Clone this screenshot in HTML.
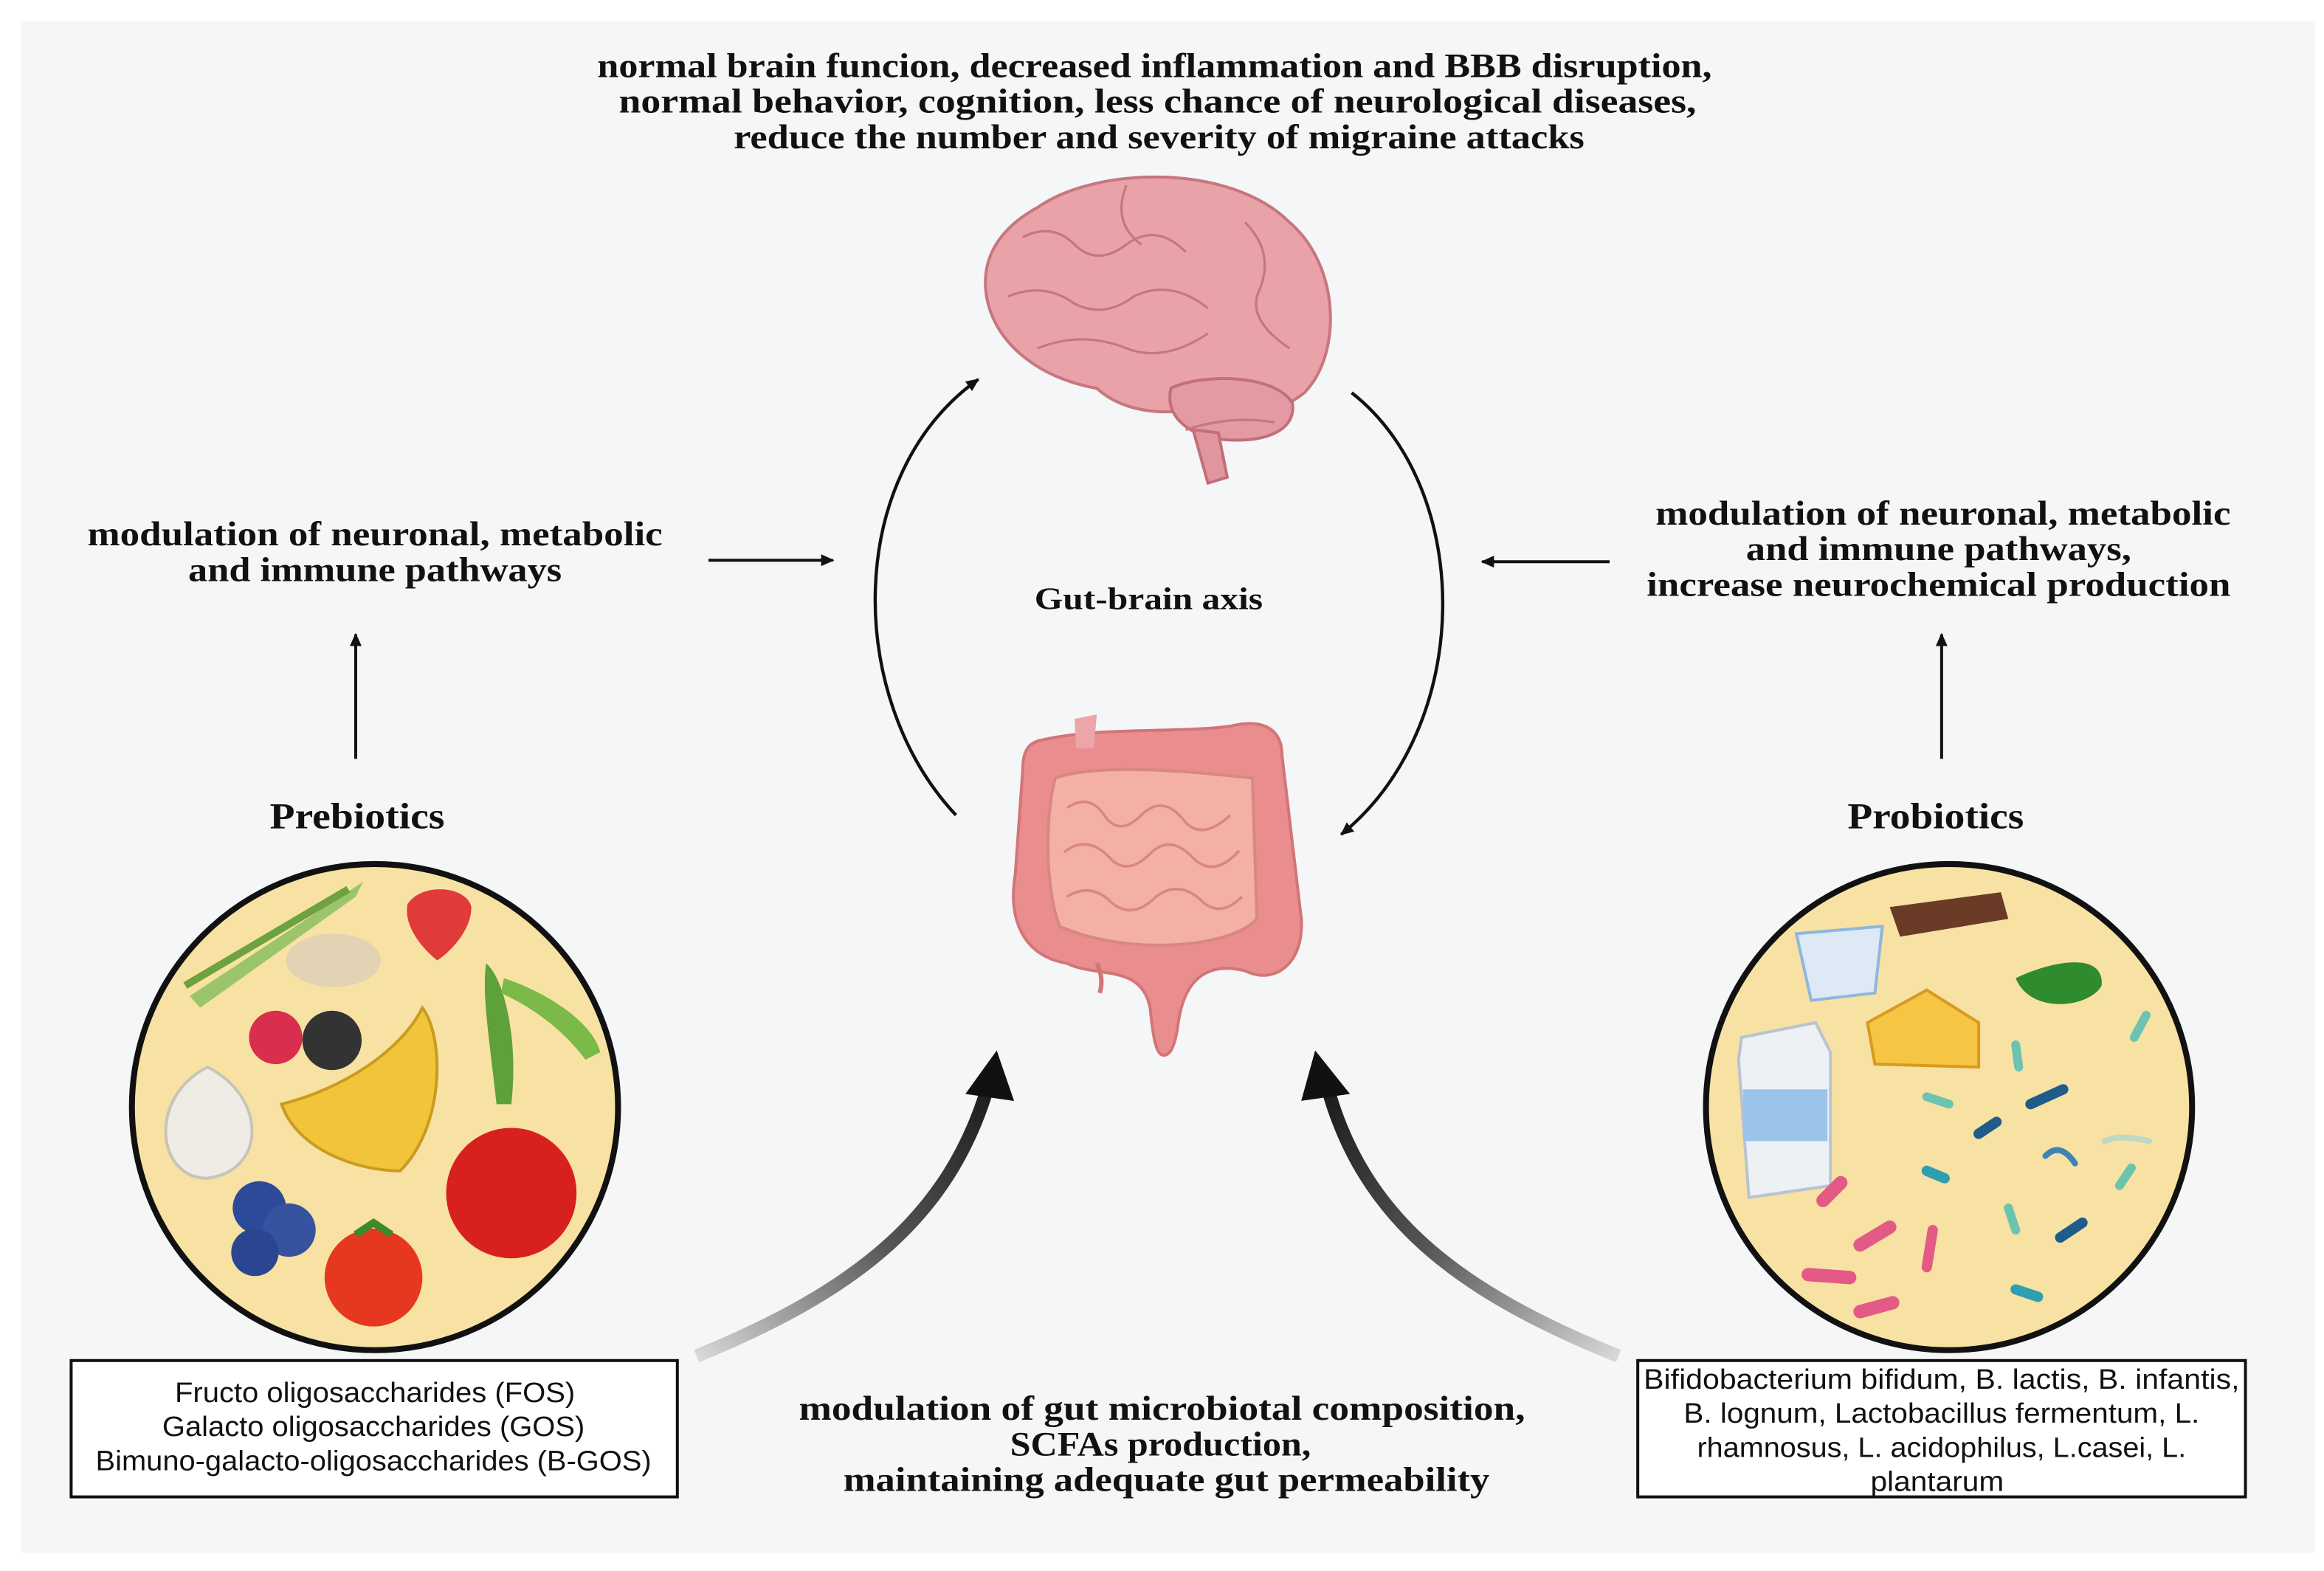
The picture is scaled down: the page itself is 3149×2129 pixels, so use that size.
<!DOCTYPE html>
<html><head><meta charset="utf-8"><style>
html,body{margin:0;padding:0;background:#fff;}
svg{display:block;}
.t{font-family:"Liberation Serif",serif;font-weight:bold;fill:#111;}
.s{font-family:"Liberation Sans",sans-serif;fill:#111;}
</style></head><body>
<svg width="3149" height="2129" viewBox="0 0 1568 1060" preserveAspectRatio="none" xmlns="http://www.w3.org/2000/svg">
<defs>
<marker id="ah" markerWidth="10" markerHeight="10" refX="8" refY="5" orient="auto" markerUnits="userSpaceOnUse"><path d="M0,1 L9,5 L0,9 z" fill="#111"/></marker>
<linearGradient id="gl" x1="470" y1="915" x2="680" y2="712" gradientUnits="userSpaceOnUse"><stop offset="0" stop-color="#d8d8d8"/><stop offset="0.5" stop-color="#555"/><stop offset="1" stop-color="#111"/></linearGradient>
<linearGradient id="gr" x1="1092" y1="915" x2="888" y2="712" gradientUnits="userSpaceOnUse"><stop offset="0" stop-color="#d8d8d8"/><stop offset="0.5" stop-color="#555"/><stop offset="1" stop-color="#111"/></linearGradient>
</defs>
<rect x="0" y="0" width="1568" height="1060" fill="#fff"/>
<rect x="14" y="14" width="1548" height="1034" fill="#f4f6f8"/>

<g class="t" font-size="23" text-anchor="middle" lengthAdjust="spacingAndGlyphs">
<text x="779" y="52" textLength="752" lengthAdjust="spacingAndGlyphs">normal brain funcion, decreased inflammation and BBB disruption,</text>
<text x="781" y="76" textLength="727" lengthAdjust="spacingAndGlyphs">normal behavior, cognition, less chance of neurological diseases,</text>
<text x="782" y="100" textLength="574" lengthAdjust="spacingAndGlyphs">reduce the number and severity of migraine attacks</text>
<text x="253" y="368" textLength="388" lengthAdjust="spacingAndGlyphs">modulation of neuronal, metabolic</text>
<text x="253" y="392" textLength="252" lengthAdjust="spacingAndGlyphs">and immune pathways</text>
<text x="1311" y="354" textLength="388" lengthAdjust="spacingAndGlyphs">modulation of neuronal, metabolic</text>
<text x="1308" y="378" textLength="260" lengthAdjust="spacingAndGlyphs">and immune pathways,</text>
<text x="1308" y="402" textLength="394" lengthAdjust="spacingAndGlyphs">increase neurochemical production</text>
<text x="784" y="958" textLength="490" lengthAdjust="spacingAndGlyphs">modulation of gut microbiotal composition,</text>
<text x="783" y="982" textLength="203" lengthAdjust="spacingAndGlyphs">SCFAs production,</text>
<text x="787" y="1006" textLength="436" lengthAdjust="spacingAndGlyphs">maintaining adequate gut permeability</text>
<text x="241" y="559" font-size="25" textLength="118" lengthAdjust="spacingAndGlyphs">Prebiotics</text>
<text x="1306" y="559" font-size="25" textLength="119" lengthAdjust="spacingAndGlyphs">Probiotics</text>
<text x="775" y="411" font-size="21" textLength="154" lengthAdjust="spacingAndGlyphs">Gut-brain axis</text>
</g>

<!-- brain -->
<g>
<path d="M700,140 C740,112 830,110 870,150 C905,180 905,240 880,265 C860,282 830,280 810,275 C790,280 760,280 740,262 C700,255 668,230 665,195 C663,170 678,152 700,140 z" fill="#e9a2a8" stroke="#c77680" stroke-width="2"/>
<path d="M790,262 C810,252 860,252 872,272 C875,292 850,300 820,296 C800,292 786,280 790,262 z" fill="#e39aa2" stroke="#c17079" stroke-width="2"/>
<path d="M805,290 L815,326 L828,322 L822,292 z" fill="#e1959d" stroke="#c17079" stroke-width="2"/>
<g fill="none" stroke="#c77680" stroke-width="1.6">
<path d="M690,160 q20,-10 35,5 q15,15 35,0 q20,-15 40,5"/>
<path d="M680,200 q25,-10 45,5 q20,10 40,-5 q25,-12 50,8"/>
<path d="M700,235 q30,-12 60,0 q25,10 55,-10"/>
<path d="M840,150 q20,20 10,45 q-10,20 20,40"/>
<path d="M760,125 q-10,25 10,40"/>
<path d="M800,290 q30,-10 60,-5"/>
</g>
</g>

<!-- gut -->
<g>
<path d="M700,500 C740,490 790,495 830,490 C850,485 865,490 865,510 L878,620 C880,650 860,665 840,655 C820,650 800,655 795,690 C793,705 790,712 785,712 C780,712 778,700 776,680 C770,650 740,660 720,650 C690,645 680,620 685,590 L690,520 C690,505 695,502 700,500 z" fill="#e98d8f" stroke="#d27577" stroke-width="2"/>
<path d="M712,525 C740,515 800,520 845,525 L848,620 C830,640 760,645 715,625 C705,600 705,550 712,525 z" fill="#f5b0a6" stroke="#d88880" stroke-width="2"/>
<g fill="none" stroke="#d88880" stroke-width="1.8">
<path d="M720,545 q15,-10 25,5 q10,15 25,0 q15,-15 30,5 q12,12 30,-5"/>
<path d="M718,575 q15,-12 30,3 q12,14 28,-2 q14,-14 30,4 q14,12 30,-6"/>
<path d="M720,605 q16,-10 30,4 q14,12 30,-4 q16,-12 32,4 q12,10 26,-4"/>
</g>
<path d="M725,485 L740,482 L738,505 L726,505 z" fill="#eca5a8"/>
<path d="M740,650 q5,10 2,20" stroke="#d27577" stroke-width="3" fill="none"/>
</g>

<!-- circle arcs -->
<path d="M645,550 C570,470 570,320 660,256" fill="none" stroke="#111" stroke-width="2.2" marker-end="url(#ah)"/>
<path d="M912,265 C995,330 995,490 905,563" fill="none" stroke="#111" stroke-width="2.2" marker-end="url(#ah)"/>

<!-- straight arrows -->
<line x1="478" y1="378" x2="562" y2="378" stroke="#111" stroke-width="2" marker-end="url(#ah)"/>
<line x1="1086" y1="379" x2="1000" y2="379" stroke="#111" stroke-width="2" marker-end="url(#ah)"/>
<line x1="240" y1="512" x2="240" y2="428" stroke="#111" stroke-width="2" marker-end="url(#ah)"/>
<line x1="1310" y1="512" x2="1310" y2="428" stroke="#111" stroke-width="2" marker-end="url(#ah)"/>

<!-- thick curved arrows -->
<path d="M470,915 C580,870 640,820 666,735" fill="none" stroke="url(#gl)" stroke-width="9"/>
<path d="M654,737 L672,712 L682,741 z" fill="#111" stroke="#111" stroke-width="3"/>
<path d="M1092,915 C980,870 920,820 896,735" fill="none" stroke="url(#gr)" stroke-width="9"/>
<path d="M908,737 L888,712 L880,741 z" fill="#111" stroke="#111" stroke-width="3"/>

<!-- prebiotics circle -->
<circle cx="253" cy="747" r="164" fill="#f7e2a3" stroke="#111" stroke-width="4"/>
<g>
<path d="M128,672 L245,595 L240,605 L135,680 z" fill="#9cc46a"/>
<path d="M125,665 L235,600" stroke="#6ea23f" stroke-width="5"/>
<ellipse cx="225" cy="648" rx="32" ry="18" fill="#e1d3b4"/>
<path d="M275,610 C285,595 315,598 318,612 C318,630 300,645 295,648 C285,640 272,625 275,610 z" fill="#e03a3a"/>
<circle cx="186" cy="700" r="18" fill="#d92e4d"/>
<circle cx="224" cy="702" r="20" fill="#333"/>
<path d="M328,650 C340,660 350,700 345,745 L335,745 C330,700 325,670 328,650 z" fill="#5ea039"/>
<path d="M340,660 C370,670 400,690 405,710 L395,715 C380,695 360,680 338,670 z" fill="#7bb948"/>
<path d="M190,745 C230,735 270,710 285,680 C300,700 300,760 270,790 C240,790 200,775 190,745 z" fill="#f2c43a" stroke="#c99b1f" stroke-width="2"/>
<path d="M140,720 C180,740 180,790 140,795 C105,795 100,740 140,720 z" fill="#efece6" stroke="#c9c3b8" stroke-width="2"/>
<circle cx="345" cy="805" r="44" fill="#d8201f"/>
<circle cx="175" cy="815" r="18" fill="#2d4a9a"/>
<circle cx="195" cy="830" r="18" fill="#35539f"/>
<circle cx="172" cy="845" r="16" fill="#2b4690"/>
<circle cx="252" cy="862" r="33" fill="#e6371f"/>
<path d="M240,833 l12,-8 l12,8" stroke="#3d8a2a" stroke-width="5" fill="none"/>
</g>

<!-- probiotics circle -->
<circle cx="1315" cy="747" r="164" fill="#f7e2a3" stroke="#111" stroke-width="4"/>
<g>
<path d="M1275,612 L1350,602 L1355,620 L1282,632 z" fill="#6a3b26"/>
<path d="M1212,630 L1270,625 L1265,670 L1222,675 z" fill="#dde9f5" stroke="#8fb6de" stroke-width="2"/>
<path d="M1360,660 C1380,650 1420,640 1418,665 C1410,680 1370,685 1360,660 z" fill="#2e8b2e"/>
<path d="M1260,690 L1300,668 L1335,690 L1335,720 L1265,718 z" fill="#f6c544" stroke="#d89a20" stroke-width="2"/>
<path d="M1175,700 L1225,690 L1235,710 L1235,800 L1180,808 L1173,715 z" fill="#eef1f4" stroke="#b8c4d0" stroke-width="2"/>
<rect x="1176" y="735" width="57" height="35" fill="#9cc4ea"/>
<g stroke-linecap="round" fill="none">
<path d="M1370,745 l22,-10" stroke="#1f5c8a" stroke-width="7"/>
<path d="M1335,765 l12,-8" stroke="#1f5c8a" stroke-width="7"/>
<path d="M1300,790 l12,5" stroke="#2e9fb0" stroke-width="7"/>
<path d="M1300,740 l15,5" stroke="#6cc4b0" stroke-width="6"/>
<path d="M1360,705 l2,15" stroke="#6cc4b0" stroke-width="6"/>
<path d="M1440,700 l8,-15" stroke="#6cc4b0" stroke-width="6"/>
<path d="M1380,780 q10,-10 20,5" stroke="#3d83b8" stroke-width="4"/>
<path d="M1420,770 q10,-5 30,0" stroke="#bfd8c6" stroke-width="4"/>
<path d="M1230,810 l12,-12" stroke="#e45a86" stroke-width="9"/>
<path d="M1255,840 l20,-12" stroke="#e45a86" stroke-width="9"/>
<path d="M1220,860 l28,2" stroke="#e45a86" stroke-width="9"/>
<path d="M1255,885 l22,-6" stroke="#e45a86" stroke-width="9"/>
<path d="M1300,855 l4,-25" stroke="#e45a86" stroke-width="7"/>
<path d="M1355,815 l5,15" stroke="#6cc4b0" stroke-width="6"/>
<path d="M1390,835 l15,-10" stroke="#1f5c8a" stroke-width="7"/>
<path d="M1360,870 l15,5" stroke="#2e9fb0" stroke-width="7"/>
<path d="M1430,800 l8,-12" stroke="#6cc4b0" stroke-width="6"/>
</g>
</g>

<!-- boxes -->
<rect x="48" y="918" width="409" height="92" fill="#fff" stroke="#111" stroke-width="2"/>
<g class="s" font-size="19" text-anchor="middle">
<text x="253" y="946" textLength="270" lengthAdjust="spacingAndGlyphs">Fructo oligosaccharides (FOS)</text>
<text x="252" y="969" textLength="285" lengthAdjust="spacingAndGlyphs">Galacto oligosaccharides (GOS)</text>
<text x="252" y="992" textLength="375" lengthAdjust="spacingAndGlyphs">Bimuno-galacto-oligosaccharides (B-GOS)</text>
</g>
<rect x="1105" y="918" width="410" height="92" fill="#fff" stroke="#111" stroke-width="2"/>
<g class="s" font-size="19" text-anchor="middle">
<text x="1310" y="937" textLength="402" lengthAdjust="spacingAndGlyphs">Bifidobacterium bifidum,  B. lactis, B. infantis,</text>
<text x="1310" y="960" textLength="348" lengthAdjust="spacingAndGlyphs">B. lognum, Lactobacillus fermentum, L.</text>
<text x="1310" y="983" textLength="330" lengthAdjust="spacingAndGlyphs">rhamnosus, L. acidophilus, L.casei, L.</text>
<text x="1307" y="1006" textLength="90" lengthAdjust="spacingAndGlyphs">plantarum</text>
</g>
</svg>
</body></html>
